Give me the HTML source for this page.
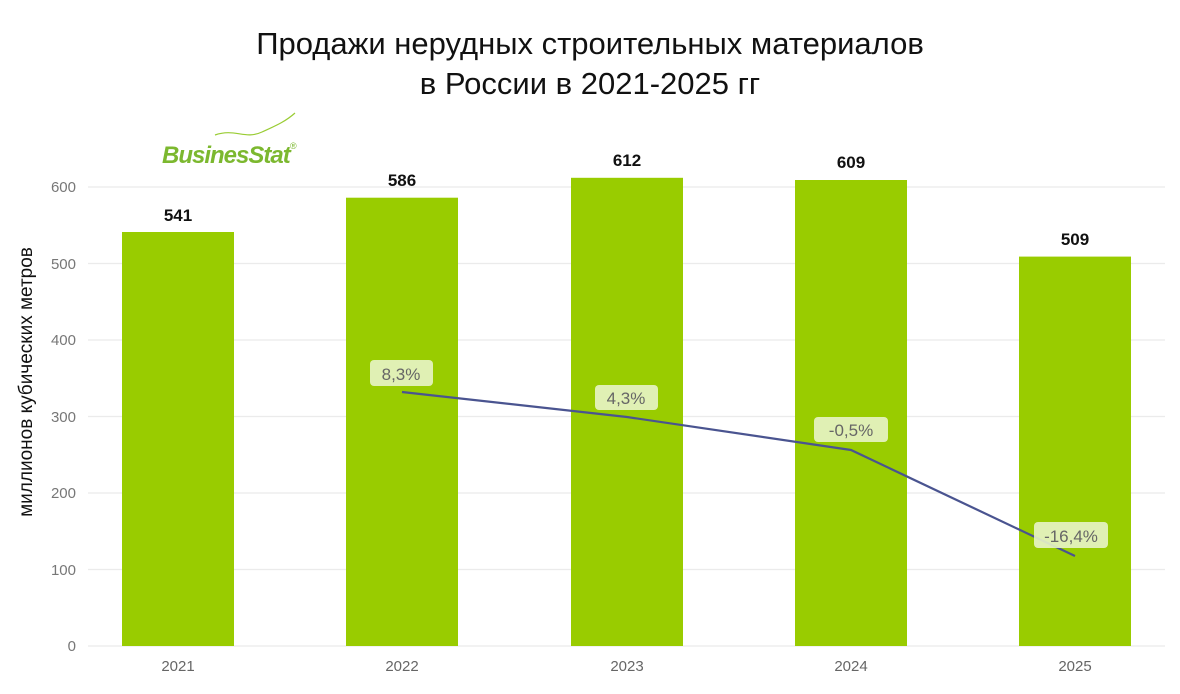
<!DOCTYPE html>
<html><head><meta charset="utf-8"><style>
body{margin:0;background:#fff;width:1180px;height:689px;overflow:hidden}
</style></head><body>
<svg width="1180" height="689" xmlns="http://www.w3.org/2000/svg" font-family="Liberation Sans, DejaVu Sans, sans-serif">
<text x="590" y="54" text-anchor="middle" font-size="31" fill="#111">Продажи нерудных строительных материалов</text>
<text x="590" y="94" text-anchor="middle" font-size="31" fill="#111">в России в 2021-2025 гг</text>
<g stroke="#ebebeb" stroke-width="1.2">
<line x1="88" x2="1165" y1="187" y2="187"/><line x1="88" x2="1165" y1="263.5" y2="263.5"/>
<line x1="88" x2="1165" y1="340" y2="340"/><line x1="88" x2="1165" y1="416.5" y2="416.5"/>
<line x1="88" x2="1165" y1="493" y2="493"/><line x1="88" x2="1165" y1="569.5" y2="569.5"/>
<line x1="88" x2="1165" y1="646" y2="646"/></g>
<g font-size="15" fill="#777" text-anchor="end">
<text x="76" y="192">600</text><text x="76" y="269">500</text><text x="76" y="345">400</text>
<text x="76" y="422">300</text><text x="76" y="498">200</text><text x="76" y="575">100</text><text x="76" y="651">0</text></g>
<text transform="translate(32,382) rotate(-90)" text-anchor="middle" font-size="19" fill="#111">миллионов кубических метров</text>
<g fill="#99cc00">
<rect x="122" y="232" width="112" height="414"/><rect x="346" y="197.7" width="112" height="448.3"/>
<rect x="571" y="177.8" width="112" height="468.2"/><rect x="795" y="180" width="112" height="466"/>
<rect x="1019" y="256.6" width="112" height="389.4"/></g>
<g font-size="17" font-weight="bold" fill="#111" text-anchor="middle">
<text x="178" y="221">541</text><text x="402" y="186">586</text><text x="627" y="166">612</text>
<text x="851" y="168">609</text><text x="1075" y="245">509</text></g>
<g font-size="15" fill="#666" text-anchor="middle">
<text x="178" y="671">2021</text><text x="402" y="671">2022</text><text x="627" y="671">2023</text>
<text x="851" y="671">2024</text><text x="1075" y="671">2025</text></g>
<polyline points="402,392 627,417 851,450 1075,556" fill="none" stroke="#4a5490" stroke-width="2.2"/>
<g fill="#e8f4c8" fill-opacity="0.9">
<rect x="370" y="360" width="63" height="26" rx="4"/><rect x="595" y="385" width="63" height="25" rx="4"/>
<rect x="814" y="417" width="74" height="25" rx="4"/><rect x="1034" y="522" width="74" height="26" rx="4"/></g>
<g font-size="17" fill="#666" text-anchor="middle">
<text x="401" y="380">8,3%</text><text x="626" y="404">4,3%</text>
<text x="851" y="436">-0,5%</text><text x="1071" y="542">-16,4%</text></g>
<path d="M215,135 C235,128 245,140 262,132 C275,126 285,122 295,113" fill="none" stroke="#9c3" stroke-width="1.2"/>
<text x="162" y="163" font-size="24" font-weight="bold" font-style="italic" fill="#7cb82f" letter-spacing="-1">BusinesStat</text>
<text x="290" y="149" font-size="9" fill="#7cb82f">®</text>
</svg>
</body></html>
